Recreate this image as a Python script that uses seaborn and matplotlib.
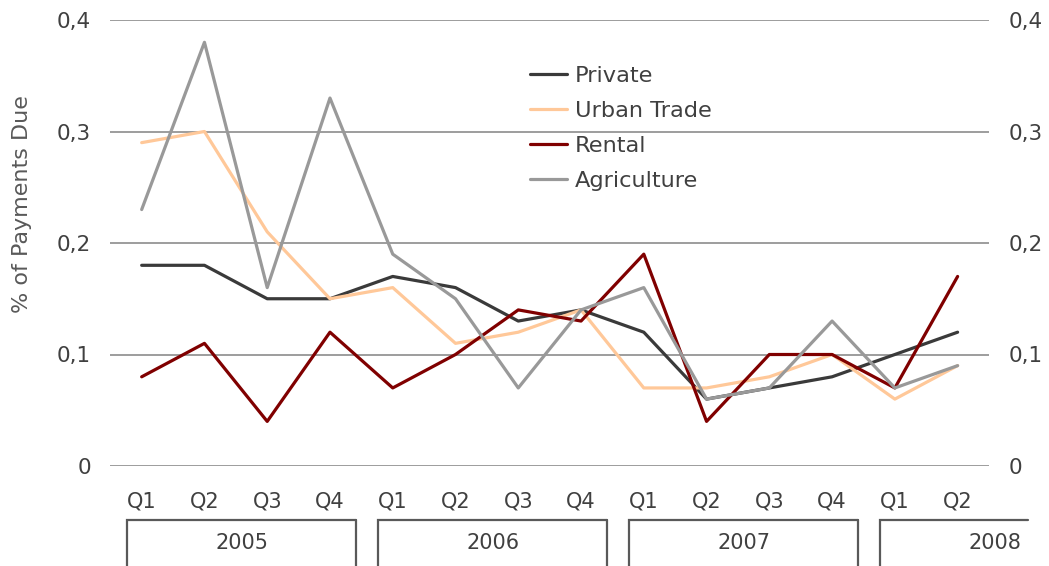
import matplotlib
matplotlib.use("Agg")
import matplotlib.pyplot as plt
import matplotlib.transforms as mtransforms
from matplotlib.ticker import FuncFormatter
import pandas as pd
import seaborn as sns

# Quarterly share of payments due, 2005 Q1 - 2008 Q2
years = ["2005", "2006", "2007", "2008"]
quarters = ["Q1", "Q2", "Q3", "Q4", "Q1", "Q2", "Q3", "Q4",
            "Q1", "Q2", "Q3", "Q4", "Q1", "Q2"]
year_sizes = [4, 4, 4, 2]

private = [0.18, 0.18, 0.15, 0.15, 0.17, 0.16, 0.13, 0.14, 0.12, 0.06, 0.07, 0.08, 0.10, 0.12]
urban_trade = [0.29, 0.30, 0.21, 0.15, 0.16, 0.11, 0.12, 0.14, 0.07, 0.07, 0.08, 0.10, 0.06, 0.09]
rental = [0.08, 0.11, 0.04, 0.12, 0.07, 0.10, 0.14, 0.13, 0.19, 0.04, 0.10, 0.10, 0.07, 0.17]
agriculture = [0.23, 0.38, 0.16, 0.33, 0.19, 0.15, 0.07, 0.14, 0.16, 0.06, 0.07, 0.13, 0.07, 0.09]

series = {
    "Private": private,
    "Urban Trade": urban_trade,
    "Rental": rental,
    "Agriculture": agriculture,
}
palette = {
    "Private": "#3a3a3a",
    "Urban Trade": "#ffc899",
    "Rental": "#800000",
    "Agriculture": "#999999",
}

rows = []
for name, vals in series.items():
    for i, v in enumerate(vals):
        rows.append({"idx": i, "value": v, "series": name})
df = pd.DataFrame(rows)

sns.set_theme(style="white")
plt.rcParams["font.family"] = ["DejaVu Sans"]
text_color = "#404040"
grid_color = "#8c8c8c"
box_color = "#595959"

W, H = 1049, 566
fig = plt.figure(figsize=(W / 100, H / 100), dpi=100)
ax = fig.add_axes([110.3 / W, 1 - 466 / H, (989 - 110.3) / W, (466 - 20) / H])

sns.lineplot(data=df, x="idx", y="value", hue="series", palette=palette,
             linewidth=2.3, ax=ax, legend=True)

ax.set_xlim(-0.5, len(quarters) - 0.5)
ax.set_ylim(0, 0.4)
ax.set_yticks([0, 0.1, 0.2, 0.3, 0.4])
ax.yaxis.set_major_formatter(FuncFormatter(
    lambda v, p: "0" if abs(v) < 1e-9 else f"{v:.1f}".replace(".", ",")))
ax.grid(axis="y", color=grid_color, linewidth=1.2)
ax.grid(axis="x", visible=False)
ax.set_axisbelow(True)
for s in ax.spines.values():
    s.set_visible(False)

ax.set_xticks(range(len(quarters)))
ax.set_xticklabels(quarters)
ax.tick_params(axis="x", length=0, pad=18, labelsize=15, labelcolor=text_color)
ax.tick_params(axis="y", length=0, pad=14, labelsize=15.5, labelcolor=text_color,
               labelleft=True, labelright=True)
ax.set_xlabel("")
ax.set_ylabel("")
fig.text(22 / W, 1 - 204 / H, "% of Payments Due", rotation=90, ha="center",
         va="center", fontsize=16, color="#595959")

# Year group boxes below the quarter labels (open at the bottom)
trans = mtransforms.blended_transform_factory(ax.transData, ax.transAxes)
box_top = -0.121
box_bottom = -0.30
clip_right = len(quarters) - 0.5 + 0.62
start = 0
for yr, n in zip(years, year_sizes):
    left = start - 0.5 + 0.27
    right = left + 3.65
    r_draw = min(right, clip_right)
    ax.plot([left, left, r_draw], [box_bottom, box_top, box_top], color=box_color,
            linewidth=1.6, transform=trans, clip_on=False, solid_joinstyle="miter")
    if right <= clip_right:
        ax.plot([right, right], [box_top, box_bottom], color=box_color,
                linewidth=1.6, transform=trans, clip_on=False)
    ax.text((left + right) / 2, -0.172, yr, transform=trans, ha="center", va="center",
            fontsize=15, color=text_color, clip_on=False)
    start += n

leg = ax.legend(loc="upper left", bbox_to_anchor=(530 / W, 1 - 66 / H),
                bbox_transform=fig.transFigure, frameon=False, fontsize=16.2,
                handlelength=1.65, handletextpad=0.33, labelspacing=0.66,
                borderpad=0, borderaxespad=0)
for t in leg.get_texts():
    t.set_color(text_color)
for h in leg.get_lines():
    h.set_linewidth(2.3)

fig.savefig("out.png", dpi=100)
